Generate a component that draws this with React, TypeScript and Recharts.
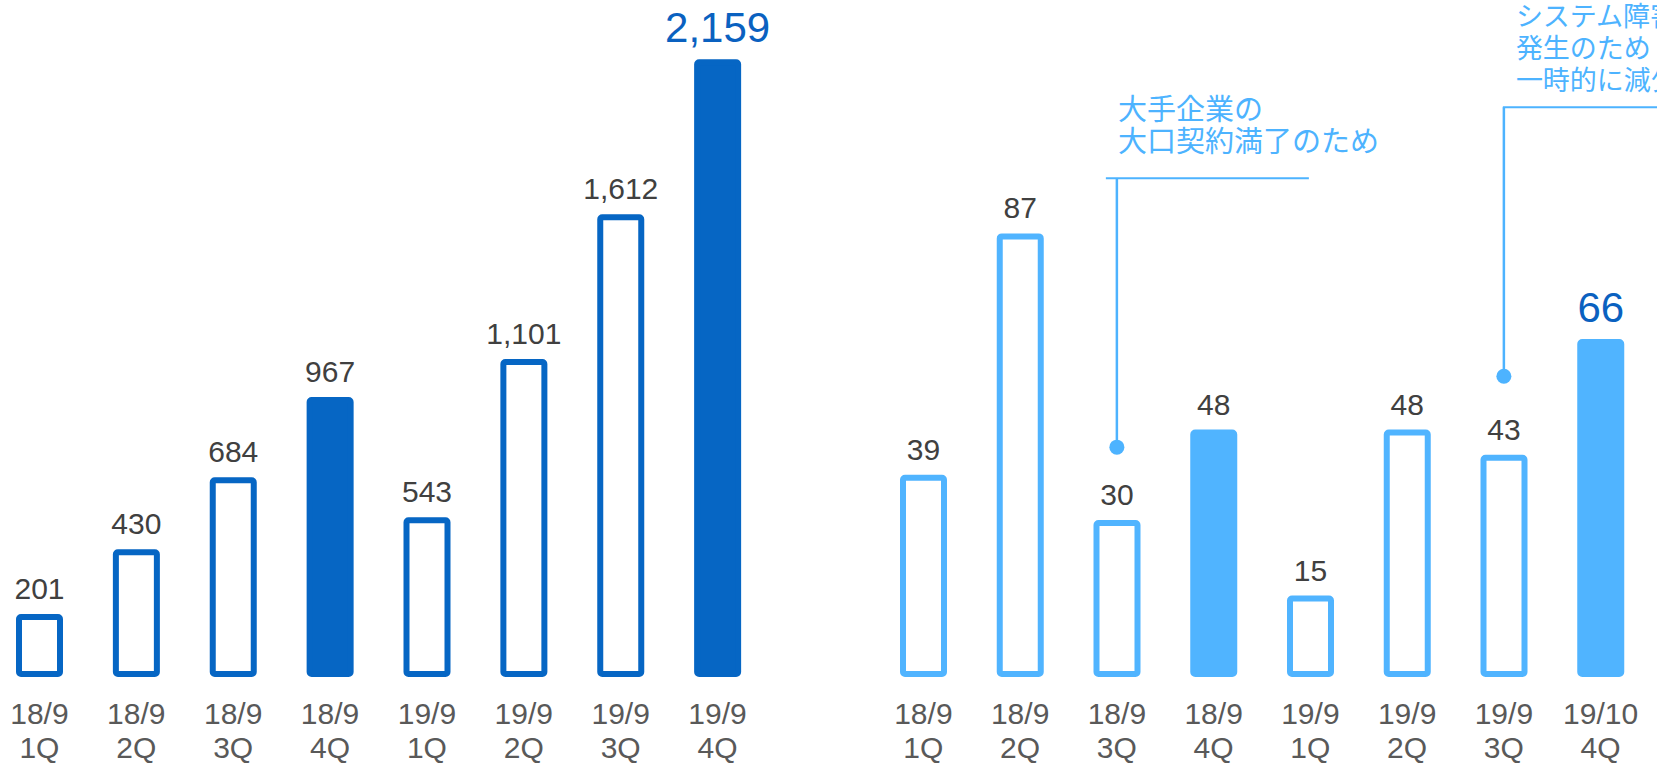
import React from 'react';
import { BarChart, Bar, XAxis, YAxis, Cell, LabelList, ReferenceDot } from 'recharts';

const leftCategories = ['18/9 1Q', '18/9 2Q', '18/9 3Q', '18/9 4Q', '19/9 1Q', '19/9 2Q', '19/9 3Q', '19/9 4Q'];
const leftValues = [201, 430, 684, 967, 543, 1101, 1612, 2159];
const rightCategories = ['18/9 1Q', '18/9 2Q', '18/9 3Q', '18/9 4Q', '19/9 1Q', '19/9 2Q', '19/9 3Q', '19/10 4Q'];
const rightValues = [39, 87, 30, 48, 15, 48, 43, 66];
const filledFlags = [false, false, false, true, false, false, false, true];
const highlightFlags = [false, false, false, false, false, false, false, true];

const annotation1Lines = ['大手企業の', '大口契約満了のため'];
const annotation2Lines = ['システム障害', '発生のため', '一時的に減少'];
const annotationCats = ['18/9 3Q', '19/9 3Q'];
const annotationValues = [45.1, 59.2];

const LEFT_COLOR = '#0666C4';
const RIGHT_COLOR = '#50B4FF';
const NOTE_COLOR = '#4DB3FF';
const BIG_LABEL_COLOR = '#0A61C0';
const LABEL_COLOR = '#404040';
const TICK_COLOR = '#595959';
const NUM_FONT = '"Liberation Sans", Arial, Helvetica, sans-serif';
const CJK_FONT = '"Noto Sans CJK JP", "Noto Sans CJK SC", sans-serif';

const leftData = leftCategories.map((c, i) => ({ cat: c, value: leftValues[i] }));
const rightData = rightCategories.map((c, i) => ({ cat: c, value: rightValues[i] }));

const renderTick = (props: any) => {
  const { x, y, payload } = props;
  const parts = String(payload.value).split(' ');
  return (
    <g>
      <text x={x} y={y + 50} textAnchor="middle" fill={TICK_COLOR} fontSize={30} fontFamily={NUM_FONT}>
        {parts[0]}
      </text>
      <text x={x} y={y + 84} textAnchor="middle" fill={TICK_COLOR} fontSize={30} fontFamily={NUM_FONT}>
        {parts[1]}
      </text>
    </g>
  );
};

const renderLabel = (props: any) => {
  const { x, y, width, value, index } = props;
  const big = highlightFlags[index];
  const cx = Number(x) + Number(width) / 2;
  return (
    <text
      x={cx}
      y={Number(y) - (big ? 20 : 18)}
      textAnchor="middle"
      fill={big ? BIG_LABEL_COLOR : LABEL_COLOR}
      fontSize={big ? 42 : 30}
      fontFamily={NUM_FONT}
    >
      {Number(value).toLocaleString('en-US')}
    </text>
  );
};

const makeAnnotation = (lines: string[], opts: { lineTop: number; hx1: number; hx2: number; tx: number; firstBaseline: number; lh: number; fs: number }) =>
  (props: any) => {
    const { cx, cy } = props;
    if (cx == null || cy == null) return <g />;
    return (
      <g>
        <line x1={cx} y1={cy} x2={cx} y2={cy + opts.lineTop} stroke={NOTE_COLOR} strokeWidth={2.5} />
        <line x1={cx + opts.hx1} y1={cy + opts.lineTop} x2={cx + opts.hx2} y2={cy + opts.lineTop} stroke={NOTE_COLOR} strokeWidth={2} />
        <circle cx={cx} cy={cy} r={7.5} fill={NOTE_COLOR} />
        {lines.map((l, i) => (
          <text
            key={i}
            x={cx + opts.tx}
            y={cy + opts.firstBaseline + i * opts.lh}
            fill={NOTE_COLOR}
            fontSize={opts.fs}
            fontFamily={CJK_FONT}
          >
            {l}
          </text>
        ))}
      </g>
    );
  };

const annotation1Shape = makeAnnotation(annotation1Lines, { lineTop: -269, hx1: -11, hx2: 192, tx: 1, firstBaseline: -327, lh: 32, fs: 29 });
const annotation2Shape = makeAnnotation(annotation2Lines, { lineTop: -269, hx1: -1, hx2: 200, tx: 12, firstBaseline: -350, lh: 32, fs: 27 });

export default function App() {
  return (
    <div style={{ position: 'absolute', left: 0, top: 0, width: 1657, height: 763, overflow: 'hidden', background: '#fff' }}>
      <div style={{ position: 'absolute', left: -9, top: 0 }}>
        <BarChart width={805} height={763} data={leftData} margin={{ top: 0, right: 30, bottom: 0, left: 0 }}>
          <XAxis dataKey="cat" axisLine={false} tickLine={false} tickSize={0} tickMargin={0} height={89} tick={renderTick} interval={0} />
          <YAxis hide type="number" domain={[0, 2379]} />
          <Bar dataKey="value" barSize={41} stroke={LEFT_COLOR} strokeWidth={6} radius={2} isAnimationActive={false}>
            {leftData.map((d, i) => (
              <Cell key={d.cat} fill={filledFlags[i] ? LEFT_COLOR : '#FFFFFF'} />
            ))}
            <LabelList dataKey="value" content={renderLabel} />
          </Bar>
        </BarChart>
      </div>
      <div style={{ position: 'absolute', left: 875, top: 0 }}>
        <BarChart width={782} height={763} data={rightData} margin={{ top: 0, right: 8, bottom: 0, left: 0 }}>
          <XAxis dataKey="cat" axisLine={false} tickLine={false} tickSize={0} tickMargin={0} height={89} tick={renderTick} interval={0} />
          <YAxis hide type="number" domain={[0, 134]} />
          <Bar dataKey="value" barSize={41} stroke={RIGHT_COLOR} strokeWidth={6} radius={2} isAnimationActive={false}>
            {rightData.map((d, i) => (
              <Cell key={d.cat} fill={filledFlags[i] ? RIGHT_COLOR : '#FFFFFF'} />
            ))}
            <LabelList dataKey="value" content={renderLabel} />
          </Bar>
          <ReferenceDot x={annotationCats[0]} y={annotationValues[0]} r={7.5} shape={annotation1Shape} ifOverflow="visible" />
          <ReferenceDot x={annotationCats[1]} y={annotationValues[1]} r={7.5} shape={annotation2Shape} ifOverflow="visible" />
        </BarChart>
      </div>
    </div>
  );
}
